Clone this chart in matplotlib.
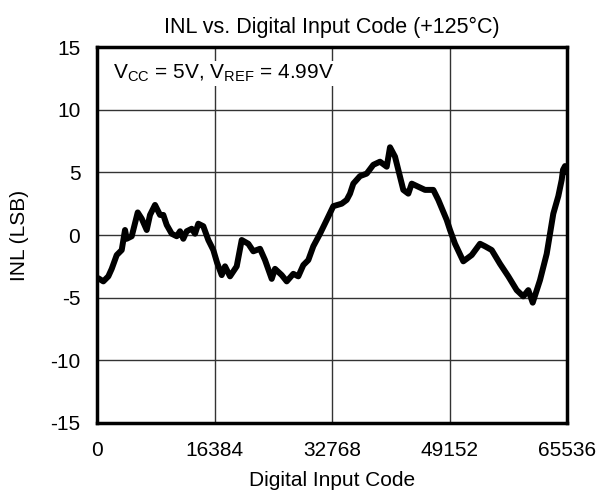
import matplotlib
matplotlib.use("Agg")
import matplotlib.pyplot as plt

# Данные: код входа и INL (LSB)
codes = [181, 878, 1576, 2050, 2747, 3444, 3904, 4141, 4839, 5675,
         6233, 6930, 7390, 8087, 8785, 9245, 9719, 10416, 11113, 11574,
         12034, 12508, 13205, 13665, 14125, 14822, 15520, 16217, 16733, 17388,
         17848, 18545, 19479, 20177, 21097, 21794, 22729, 23426, 24360, 24820,
         25755, 26452, 27372, 28069, 28766, 29464, 30161, 31095, 32029, 32950,
         34121, 34818, 35278, 35738, 36672, 37607, 38527, 39461, 40396, 40856,
         41553, 42711, 43408, 43882, 44802, 45737, 46894, 47592, 48763, 49223,
         49920, 51077, 52248, 53406, 54103, 55037, 56194, 57352, 58523, 59443,
         60140, 60754, 61772, 62706, 63626, 64324, 64798, 64980, 65260, 65480]
inl = [-3.45, -3.7, -3.3, -2.7, -1.6, -1.2, 0.4, -0.3, -0.1, 1.8,
       1.3, 0.4, 1.6, 2.4, 1.6, 1.6, 0.8, 0.1, -0.1, 0.3,
       -0.3, 0.3, 0.5, 0.1, 0.9, 0.7, -0.4, -1.2, -2.2, -3.2,
       -2.5, -3.3, -2.5, -0.4, -0.7, -1.3, -1.1, -2.0, -3.5, -2.7,
       -3.2, -3.7, -3.1, -3.3, -2.4, -2.0, -0.9, 0.1, 1.2, 2.3,
       2.5, 2.8, 3.3, 4.1, 4.7, 4.9, 5.6, 5.85, 5.45, 7.0,
       6.25, 3.6, 3.3, 4.1, 3.85, 3.6, 3.6, 2.8, 1.2, 0.4,
       -0.7, -2.1, -1.6, -0.7, -0.9, -1.2, -2.3, -3.3, -4.4, -4.9,
       -4.4, -5.4, -3.6, -1.5, 1.7, 3.1, 4.4, 5.2, 5.5, 5.0]

x_ticks = [0, 16384, 32768, 49152, 65536]
y_ticks = [-15, -10, -5, 0, 5, 10, 15]

plt.rcParams['font.family'] = ['Liberation Sans', 'DejaVu Sans']
plt.rcParams['mathtext.fontset'] = 'custom'
plt.rcParams['mathtext.rm'] = 'Liberation Sans'
plt.rcParams['axes.unicode_minus'] = False

fig = plt.figure(figsize=(6, 4.95), dpi=100)
ax = fig.add_axes([0.1617, 0.1455, 0.7833, 0.7595])

ax.plot(codes, inl, color='black', linewidth=4.3, solid_joinstyle='round',
        solid_capstyle='round')

ax.set_xlim(0, 65536)
ax.set_ylim(-15, 15)
ax.set_xticks(x_ticks)
ax.set_yticks(y_ticks)
ax.tick_params(length=0, labelsize=15)
ax.tick_params(axis='y', pad=12)
ax.tick_params(axis='x', pad=13)
ax.grid(True, color='#333333', linewidth=1.0)
for s in ax.spines.values():
    s.set_linewidth(2.5)

ax.set_title('INL vs. Digital Input Code (+125°C)', fontsize=15.5, pad=10)
ax.set_xlabel('Digital Input Code', fontsize=15, labelpad=8)
ax.set_ylabel('INL (LSB)', fontsize=15, labelpad=15)

ax.text(0.035, 0.93, r'V$_{\mathrm{CC}}$ = 5V, V$_{\mathrm{REF}}$ = 4.99V',
        transform=ax.transAxes, fontsize=15, va='center', ha='left',
        bbox=dict(facecolor='white', edgecolor='none', pad=1))

fig.savefig('out.png', dpi=100)
